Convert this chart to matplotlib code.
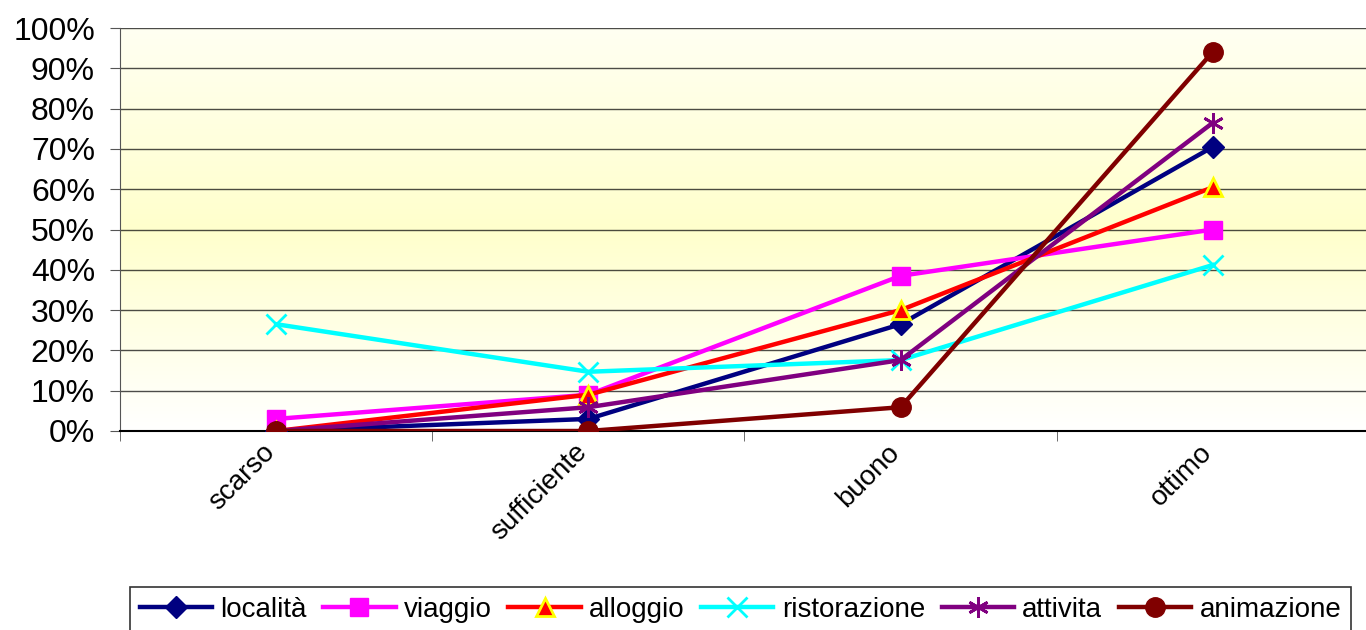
import matplotlib.pyplot as plt
import matplotlib.transforms as mtransforms
import numpy as np
from matplotlib.colors import LinearSegmentedColormap

plt.rcParams['font.family'] = ['Liberation Sans', 'DejaVu Sans']

# data
categories = ['scarso', 'sufficiente', 'buono', 'ottimo']
localita = [0, 3, 26.5, 70.5]
viaggio = [3, 9, 38.5, 50]
alloggio = [0, 9, 30, 60.5]
ristorazione = [26.5, 14.7, 17.6, 41.2]
attivita = [0, 5.9, 17.6, 76.5]
animazione = [0, 0, 5.9, 94.1]

series = [
    ('località', localita, '#000080', 'D', '#000080', 11),
    ('viaggio', viaggio, '#FF00FF', 's', '#FF00FF', 13),
    ('alloggio', alloggio, '#FF0000', '^', '#FFFF00', 13),
    ('ristorazione', ristorazione, '#00FFFF', 'x', '#00FFFF', 14),
    ('attivita', attivita, '#800080', (6, 2, 0), '#800080', 15),
    ('animazione', animazione, '#800000', 'o', '#800000', 14),
]

fig = plt.figure(figsize=(13.66, 6.3), dpi=100)
ax = fig.add_axes([120 / 1366, 1 - 431 / 630, 1249 / 1366, 403 / 630])

# background gradient (white -> pale yellow -> white)
grad = LinearSegmentedColormap.from_list('bg', ['#FFFFF2', '#FFFFCC', '#FFFFFF'])
ax.imshow(np.linspace(0, 1, 256).reshape(-1, 1), cmap=grad, aspect='auto',
          extent=[-0.5, 3.5, 0, 100], zorder=0)

x = np.arange(len(categories))
for name, vals, col, mk, edge, ms in series:
    ax.plot(x, vals, color=col, lw=3.2, marker=mk, markersize=ms,
            markerfacecolor=col, markeredgecolor=edge,
            markeredgewidth=2 if mk in ('^', 'x', (6, 2, 0)) else 1,
            label=name, zorder=3)

ax.set_xlim(-0.5, 3.5)
ax.set_ylim(0, 100)
ax.set_yticks(np.arange(0, 101, 10))
ax.set_yticklabels([f'{v}%' for v in range(0, 101, 10)], fontsize=23)
ax.yaxis.grid(True, color='black', lw=1, alpha=0.7)
for g in ax.get_ygridlines():
    g.set_zorder(1)

ax.set_xticks(x)
ax.set_xticklabels(categories, rotation=45, ha='right', rotation_mode='anchor',
                   fontsize=20)
ax.set_xticks(np.arange(-0.5, 3.6, 1), minor=True)
ax.tick_params(axis='x', which='major', length=0, pad=6)
ax.tick_params(axis='x', which='minor', length=7, direction='out', color='#555555')
ax.tick_params(axis='y', length=7, direction='out', color='#555555', pad=11)
shift = mtransforms.ScaledTranslation(-14 / 100, 0, fig.dpi_scale_trans)
for lbl in ax.get_xticklabels():
    lbl.set_transform(lbl.get_transform() + shift)

for s in ['top', 'right']:
    ax.spines[s].set_visible(False)
ax.spines['left'].set_color('#555555')
ax.spines['bottom'].set_color('black')
ax.spines['bottom'].set_linewidth(1.5)

leg = fig.legend(loc='upper left', bbox_to_anchor=(130 / 1366, 1 - 587 / 630), ncol=6,
                 fontsize=20, frameon=True, fancybox=False, edgecolor='black',
                 handlelength=2.6, handletextpad=0.3, columnspacing=0.6,
                 borderpad=0.35, borderaxespad=0)
leg.get_frame().set_linewidth(1.2)

fig.savefig('out.png', dpi=100)
